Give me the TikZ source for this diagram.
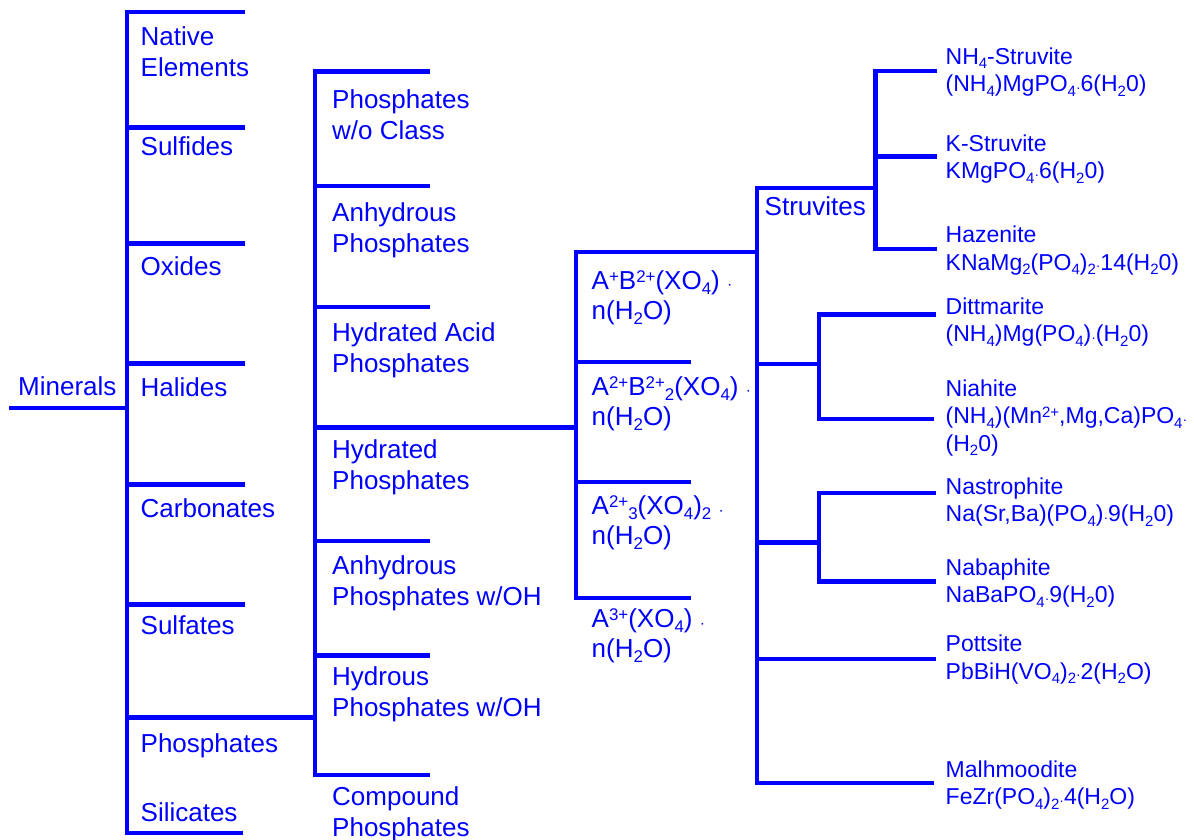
\documentclass[tikz,border=0pt]{standalone}
\usepackage{fontspec}
\setmainfont{Liberation Sans}
\usepackage{graphicx}
\definecolor{blu}{RGB}{0,0,255}
\newcommand\sbs[1]{\raisebox{-0.2em}{\scalebox{0.65}{#1}}}
\newcommand\sps[1]{\raisebox{0.26em}{\scalebox{0.65}{#1}}}
\newcommand\cdt{\raisebox{-0.03em}{\scalebox{0.6}{·}}}
\newcommand\twoline[1]{\begin{tabular}[t]{@{}l@{}}#1\end{tabular}}
\tikzset{
  ln/.style={draw=blu, line width=4.5pt},
  lab/.style={anchor=base west, inner sep=0pt, text=blu, font=\fontsize{26}{31}\selectfont},
  fml/.style={lab, font=\fontsize{26}{30}\selectfont},
  sml/.style={lab, font=\fontsize{23}{27.5}\selectfont}
}
\begin{document}
\begin{tikzpicture}[x=1pt,y=-1pt]
\useasboundingbox (0,0) rectangle (1194,840);
% junction coordinates
\coordinate (c1t) at (127,12);   \coordinate (c1b) at (127,833);
\coordinate (c2t) at (315,71.3); \coordinate (c2b) at (315,775);
\coordinate (c3t) at (576,252);  \coordinate (c3b) at (576,598);
\coordinate (c4t) at (757,188);  \coordinate (c4b) at (757,783);
\coordinate (c5t) at (875.5,71); \coordinate (c5b) at (875.5,249);
\coordinate (c6t) at (819,314.3);\coordinate (c6b) at (819,419);
\coordinate (c7t) at (819,492.8);\coordinate (c7b) at (819,581.7);

% column 1
\draw[ln] (245,12) -- (c1t) -- (c1b) -- (243,833);
\draw[ln] (9,408) -- (127,408);
\foreach \y in {127.5,243.7,363.7,484.7,604.7} \draw[ln] (127,\y) -- (245,\y);
\draw[ln] (127,717.5) -- (315,717.5);
% column 2
\draw[ln] (430,71.3) -- (c2t) -- (c2b) -- (430,775);
\foreach \y in {186,307,541,655.5} \draw[ln] (315,\y) -- (430,\y);
\draw[ln] (315,427.5) -- (576,427.5);
% column 3
\draw[ln] (757,252) -- (c3t) -- (c3b) -- (691,598);
\foreach \y in {362,482} \draw[ln] (576,\y) -- (691,\y);
% column 4
\draw[ln] (875.5,188) -- (c4t) -- (c4b) -- (934,783);
\draw[ln] (757,364) -- (819,364);
\draw[ln] (757,542.5) -- (819,542.5);
\draw[ln] (757,659) -- (935.7,659);
% struvite group
\draw[ln] (937,71) -- (c5t) -- (c5b) -- (937,249);
\draw[ln] (875.5,156.7) -- (937,156.7);
% dittmarite group
\draw[ln] (935.7,314.3) -- (c6t) -- (c6b) -- (934,419);
% nastrophite group
\draw[ln] (935.7,492.8) -- (c7t) -- (c7b) -- (935.7,581.7);

% labels column 1
\node[lab] (minerals) at (18,395) {Minerals};
\node[lab] (native) at (140.5,46) {\twoline{Native\\Elements}};
\node[lab] (sulfides) at (140.5,156) {Sulfides};
\node[lab] (oxides) at (140.5,275) {Oxides};
\node[lab] (halides) at (140.5,396) {Halides};
\node[lab] (carbonates) at (140.5,517) {Carbonates};
\node[lab] (sulfates) at (140.5,634) {Sulfates};
\node[lab] (phosphates) at (140.5,752) {Phosphates};
\node[lab] (silicates) at (140.5,821) {Silicates};
% labels column 2
\node[lab] (woclass) at (332,109) {\twoline{Phosphates\\w/o Class}};
\node[lab] (anhyd) at (332,221.7) {\twoline{Anhydrous\\Phosphates}};
\node[lab] (hydacid) at (332,341.7) {\twoline{Hydrated Acid\\Phosphates}};
\node[lab] (hydr) at (332,458.3) {\twoline{Hydrated\\Phosphates}};
\node[lab] (anhydoh) at (332,574) {\twoline{Anhydrous\\Phosphates w/OH}};
\node[lab] (hydroh) at (332,685.7) {\twoline{Hydrous\\Phosphates w/OH}};
\node[lab] (compound) at (332,805.7) {\twoline{Compound\\Phosphates}};
% labels column 3
\node[fml] (f1) at (591.5,289) {\twoline{A\sps{+}B\sps{2+}(XO\sbs{4})~\cdt\\n(H\sbs{2}O)}};
\node[fml] (f2) at (591.5,395) {\twoline{A\sps{2+}B\sps{2+}\sbs{2}(XO\sbs{4})~\cdt\\n(H\sbs{2}O)}};
\node[fml] (f3) at (591.5,514.3) {\twoline{A\sps{2+}\sbs{3}(XO\sbs{4})\sbs{2}~\cdt\\n(H\sbs{2}O)}};
\node[fml] (f4) at (591.5,627.7) {\twoline{A\sps{3+}(XO\sbs{4})~\cdt\\n(H\sbs{2}O)}};
% column 4
\node[lab] (struvites) at (764.5,215) {Struvites};
% minerals
\node[sml] (nhs) at (945.5,64.3) {\twoline{NH\sbs{4}-Struvite\\(NH\sbs{4})MgPO\sbs{4}\cdt 6(H\sbs{2}0)}};
\node[sml] (ks) at (945.5,151) {\twoline{K-Struvite\\KMgPO\sbs{4}\cdt 6(H\sbs{2}0)}};
\node[sml] (haz) at (945.5,242.7) {\twoline{Hazenite\\KNaMg\sbs{2}(PO\sbs{4})\sbs{2}\cdt 14(H\sbs{2}0)}};
\node[sml] (ditt) at (945.5,314.3) {\twoline{Dittmarite\\(NH\sbs{4})Mg(PO\sbs{4})\cdt(H\sbs{2}0)}};
\node[sml] (nia) at (945.5,396) {\twoline{Niahite\\(NH\sbs{4})(Mn\sps{2+},Mg,Ca)PO\sbs{4}\cdt\\(H\sbs{2}0)}};
\node[sml] (nas) at (945.5,494) {\twoline{Nastrophite\\Na(Sr,Ba)(PO\sbs{4})\cdt 9(H\sbs{2}0)}};
\node[sml] (nab) at (945.5,575) {\twoline{Nabaphite\\NaBaPO\sbs{4}\cdt 9(H\sbs{2}0)}};
\node[sml] (pot) at (945.5,651.7) {\twoline{Pottsite\\PbBiH(VO\sbs{4})\sbs{2}\cdt 2(H\sbs{2}O)}};
\node[sml] (mal) at (945.5,777.3) {\twoline{Malhmoodite\\FeZr(PO\sbs{4})\sbs{2}\cdt 4(H\sbs{2}O)}};
\end{tikzpicture}
\end{document}
